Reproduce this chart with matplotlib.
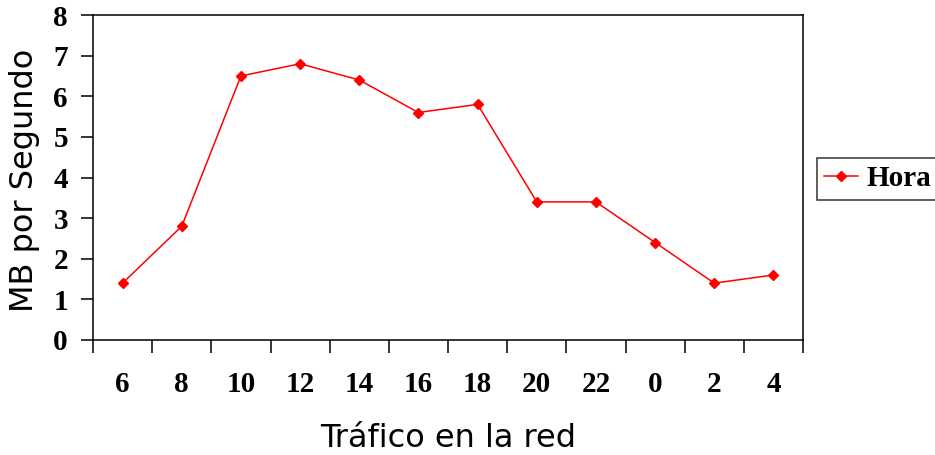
import matplotlib
matplotlib.use("Agg")
import matplotlib.pyplot as plt
import matplotlib.transforms as mtransforms
import numpy as np

# Hourly network traffic (MB per second)
hours = ["6", "8", "10", "12", "14", "16", "18", "20", "22", "0", "2", "4"]
mb_per_sec = [1.4, 2.8, 6.5, 6.8, 6.4, 5.6, 5.8, 3.4, 3.4, 2.4, 1.4, 1.6]
y_ticks = [0, 1, 2, 3, 4, 5, 6, 7, 8]

W, H = 935, 455
fig = plt.figure(figsize=(W / 100, H / 100), dpi=100)
ax = fig.add_axes([93 / W, 1 - 340 / H, (803 - 93) / W, (340 - 15) / H])

x = np.arange(len(hours))
line, = ax.plot(x, mb_per_sec, color="#ff0000", lw=1.1, marker="D",
                markersize=5, markeredgecolor="#ff0000", markerfacecolor="#ff0000",
                label="Hora")

ax.set_xlim(-0.5, len(hours) - 0.5)
ax.set_ylim(0, 8)

tick_font = dict(family="Liberation Serif", weight="bold", size=21)

ax.set_yticks(y_ticks)
ax.set_yticklabels([str(v) for v in y_ticks], **tick_font)
shift = mtransforms.ScaledTranslation(0, -3 / 100, fig.dpi_scale_trans)
for lbl in ax.get_yticklabels():
    lbl.set_transform(lbl.get_transform() + shift)

# category boundaries carry the tick marks; labels sit centred below each category
ax.set_xticks(np.arange(len(hours) + 1) - 0.5)
ax.set_xticklabels([])
ax.set_xticks(x, minor=True)
ax.set_xticklabels(hours, minor=True, **tick_font)
ax.tick_params(axis="x", which="minor", length=0, pad=22)
ax.tick_params(axis="x", which="major", length=9, width=1.1, direction="out")
ax.tick_params(axis="y", length=9, width=1.1, direction="out", pad=9)

for s in ax.spines.values():
    s.set_linewidth(1.1)

label_font = dict(family="DejaVu Sans", size=23)
fig.text(33 / W, 1 - 180 / H, "MB por Segundo", rotation=90,
         rotation_mode="anchor", ha="center", va="baseline", **label_font)
fig.text(448 / W, 1 - 454 / H, "Tráfico en la red",
         ha="center", va="bottom", **label_font)

leg = fig.legend(handles=[line], loc="upper left",
                 bbox_to_anchor=(817 / W, 1 - 158 / H),
                 prop=dict(family="Liberation Serif", weight="bold", size=21),
                 frameon=True, fancybox=False, edgecolor="black",
                 handlelength=1.15, handletextpad=0.3, borderpad=0.25,
                 borderaxespad=0)
leg.get_frame().set_linewidth(1.1)

fig.savefig("out.png", dpi=100)
